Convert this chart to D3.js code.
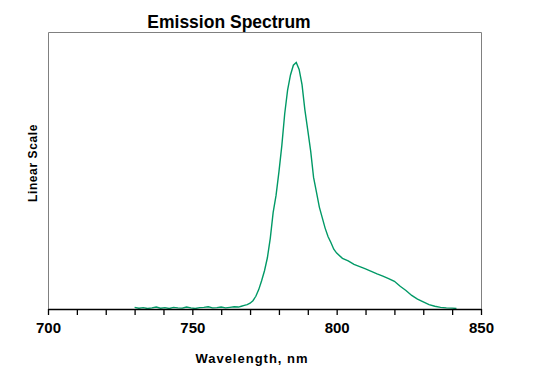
<!DOCTYPE html>
<html>
<head>
<meta charset="utf-8">
<script src="https://cdn.jsdelivr.net/npm/d3@7"></script>
<style>
  body { margin: 0; background: #fff; }
  text { font-family: Arial, "Liberation Sans", sans-serif; font-weight: bold; fill: #000; }
</style>
</head>
<body>
<div id="chart"></div>
<script>
// Emission spectrum (arbitrary linear units)
const wavelength = [
  730, 731.5, 733, 734.5, 736, 737.5, 739, 740.5, 742, 743.5, 745, 746.5, 748, 749.5,
  751, 752.5, 754, 755.5, 757, 758.5, 760, 761.5, 763, 764.5, 766,
  767, 768, 769, 770, 771, 772, 773, 774, 775, 776, 777, 778, 779, 780,
  781, 782, 783, 784, 785, 786, 787, 788, 789, 790, 791, 792, 793, 794,
  795, 796, 797, 798, 799, 800, 802, 804, 806, 808, 810, 812, 814, 816,
  818, 820, 822, 824, 826, 828, 830, 832, 834, 836, 838, 840, 841.5
];
const intensity = [
  0.6, 0.3, 0.5, 0.2, 0.4, 0.7, 0.3, 0.5, 0.2, 0.6, 0.4, 0.3, 0.7, 0.4,
  0.2, 0.5, 0.6, 0.8, 0.4, 0.5, 0.7, 0.4, 0.6, 0.8, 0.7,
  1.0, 1.3, 1.6, 2.1, 3.0, 4.6, 7.0, 10.2, 13.8, 18.5, 25.5, 34.9, 41.0, 49.5,
  59.0, 70.5, 79.0, 84.5, 88.0, 89.0, 86.5, 81.0, 71.8, 64.5, 57.0, 47.5, 42.2, 36.8,
  33.0, 29.2, 26.2, 24.0, 21.6, 20.2, 18.3, 17.4, 16.1, 15.3, 14.5, 13.6, 12.7, 11.9,
  11.0, 10.0, 8.2, 6.7, 4.9, 3.6, 2.6, 1.6, 1.0, 0.6, 0.4, 0.3, 0.2
];
const xTicks = [700, 750, 800, 850];

const data = wavelength.map((w, i) => ({ w: w, v: intensity[i] }));

const svgWidth = 555;
const svgHeight = 384;
const margin = { top: 32, right: 74, bottom: 75, left: 48 };
const width = svgWidth - margin.left - margin.right;
const height = svgHeight - margin.top - margin.bottom;

const svg = d3.select('#chart')
  .append('svg')
  .attr('width', svgWidth)
  .attr('height', svgHeight);

const g = svg.append('g')
  .attr('transform', `translate(${margin.left},${margin.top})`);

const xScale = d3.scaleLinear().domain([700, 850]).range([0, width]);
const yScale = d3.scaleLinear().domain([0, 100]).range([height, 0]);

// frame: grey on left, top, right
g.append('path')
  .attr('d', `M0.5,${height}V0.5H${width + 0.5}V${height}`)
  .attr('fill', 'none')
  .attr('stroke', '#808080')
  .attr('stroke-width', 1);

// spectrum
g.append('path')
  .datum(data)
  .attr('fill', 'none')
  .attr('stroke', '#009966')
  .attr('stroke-width', 1.4)
  .attr('d', d3.line().x(d => xScale(d.w)).y(d => yScale(d.v)));

// bottom axis: minor ticks every 10 nm, labels every 50
const xAxis = g.append('g')
  .attr('transform', `translate(0,${height})`)
  .call(d3.axisBottom(xScale)
    .tickValues(d3.range(700, 851, 10))
    .tickSize(6)
    .tickSizeOuter(0)
    .tickFormat(d => xTicks.includes(d) ? d : ''));
xAxis.select('.domain').attr('stroke', '#000').attr('stroke-width', 1.5);
xAxis.selectAll('.tick line').attr('stroke', '#000').attr('stroke-width', 1.3);
xAxis.selectAll('.tick text')
  .attr('y', 13)
  .style('font-family', 'Arial, "Liberation Sans", sans-serif')
  .style('font-weight', 'bold')
  .style('font-size', '15px')
  .attr('fill', '#000');

svg.append('text')
  .attr('x', 229)
  .attr('y', 28)
  .attr('text-anchor', 'middle')
  .style('font-size', '17.5px')
  .text('Emission Spectrum');

svg.append('text')
  .attr('x', 252)
  .attr('y', 363)
  .attr('text-anchor', 'middle')
  .style('font-size', '13px')
  .style('letter-spacing', '1px')
  .text('Wavelength, nm');

svg.append('text')
  .attr('transform', 'translate(37,163) rotate(-90)')
  .attr('text-anchor', 'middle')
  .style('font-size', '12px')
  .style('letter-spacing', '0.6px')
  .text('Linear Scale');
</script>
</body>
</html>
